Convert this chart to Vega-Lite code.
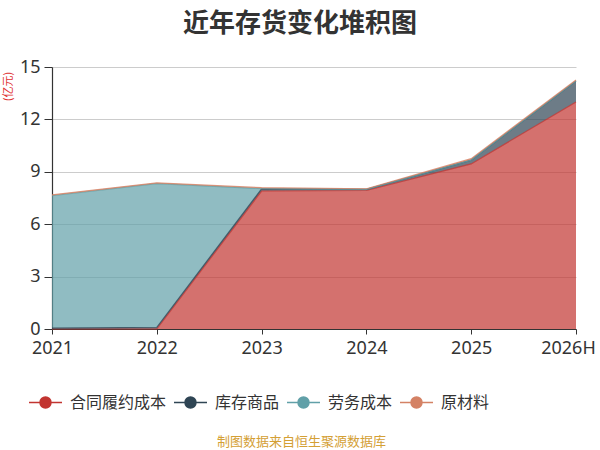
{
  "$schema": "https://vega.github.io/schema/vega-lite/v6.json",
  "width": 524,
  "height": 262,
  "autosize": {"type": "none"},
  "padding": {"left": 52, "top": 67, "right": 24, "bottom": 121},
  "background": "white",
  "config": {
    "font": "Noto Sans CJK SC",
    "view": {"stroke": null},
    "axis": {"labelFont": "Noto Sans", "titleFont": "Noto Sans CJK SC"}
  },
  "title": {
    "text": "近年存货变化堆积图",
    "fontSize": 26,
    "fontWeight": "bold",
    "color": "#333333",
    "anchor": "middle",
    "dx": -14,
    "offset": 21
  },
  "data": {
    "values": [
      {"year": "2021", "type": "合同履约成本", "k": 1, "value": 0},
      {"year": "2021", "type": "库存商品", "k": 2, "value": 0.05},
      {"year": "2021", "type": "劳务成本", "k": 3, "value": 7.58},
      {"year": "2021", "type": "原材料", "k": 4, "value": 0.05},
      {"year": "2022", "type": "合同履约成本", "k": 1, "value": 0},
      {"year": "2022", "type": "库存商品", "k": 2, "value": 0.1},
      {"year": "2022", "type": "劳务成本", "k": 3, "value": 8.22},
      {"year": "2022", "type": "原材料", "k": 4, "value": 0.05},
      {"year": "2023", "type": "合同履约成本", "k": 1, "value": 7.9},
      {"year": "2023", "type": "库存商品", "k": 2, "value": 0.12},
      {"year": "2023", "type": "劳务成本", "k": 3, "value": 0.02},
      {"year": "2023", "type": "原材料", "k": 4, "value": 0.05},
      {"year": "2024", "type": "合同履约成本", "k": 1, "value": 7.93},
      {"year": "2024", "type": "库存商品", "k": 2, "value": 0.06},
      {"year": "2024", "type": "劳务成本", "k": 3, "value": 0},
      {"year": "2024", "type": "原材料", "k": 4, "value": 0.04},
      {"year": "2025", "type": "合同履约成本", "k": 1, "value": 9.45},
      {"year": "2025", "type": "库存商品", "k": 2, "value": 0.22},
      {"year": "2025", "type": "劳务成本", "k": 3, "value": 0},
      {"year": "2025", "type": "原材料", "k": 4, "value": 0.08},
      {"year": "2026H", "type": "合同履约成本", "k": 1, "value": 13.0},
      {"year": "2026H", "type": "库存商品", "k": 2, "value": 1.2},
      {"year": "2026H", "type": "劳务成本", "k": 3, "value": 0},
      {"year": "2026H", "type": "原材料", "k": 4, "value": 0.05}
    ]
  },
  "mark": {
    "type": "area",
    "opacity": 0.7,
    "line": {"strokeWidth": 1.2, "opacity": 0.8}
  },
  "encoding": {
    "x": {
      "field": "year",
      "type": "ordinal",
      "scale": {"type": "point", "padding": 0},
      "axis": {
        "title": "制图数据来自恒生聚源数据库",
        "titleColor": "#d4a035",
        "titleFontSize": 13,
        "titleFontWeight": "normal",
        "titleX": 249,
        "titleY": 112,
        "titleBaseline": "middle",
        "titleAlign": "center",
        "labelAngle": 0,
        "labelFontSize": 18,
        "labelColor": "#333333",
        "labelPadding": 5,
        "labelOffset": {"condition": {"test": "datum.label == '2026H'", "value": -8}, "value": 0},
        "domainColor": "#333333",
        "domainWidth": 1.2,
        "tickColor": "#333333",
        "tickSize": 5,
        "grid": false
      }
    },
    "y": {
      "field": "value",
      "type": "quantitative",
      "stack": "zero",
      "scale": {"domain": [0, 15]},
      "axis": {
        "values": [0, 3, 6, 9, 12, 15],
        "title": "(亿元)",
        "titleColor": "#e03030",
        "titleFontSize": 11,
        "titleFontWeight": "normal",
        "titleAngle": -90,
        "titleX": -44,
        "titleY": 19,
        "titleBaseline": "middle",
        "titleAlign": "center",
        "labelFontSize": 18,
        "labelColor": "#333333",
        "labelPadding": 4,
        "domainColor": "#333333",
        "domainWidth": 1.2,
        "tickColor": "#333333",
        "tickSize": 8,
        "gridColor": "#cccccc",
        "gridWidth": 1
      }
    },
    "color": {
      "field": "type",
      "type": "nominal",
      "scale": {
        "domain": ["合同履约成本", "库存商品", "劳务成本", "原材料"],
        "range": ["#c23531", "#2f4554", "#61a0a8", "#d48265"]
      },
      "legend": {
        "title": null,
        "orient": "none",
        "direction": "horizontal",
        "legendX": -24,
        "legendY": 318,
        "labelFontSize": 16,
        "labelColor": "#333333",
        "columnPadding": 4,
        "labelOffset": 7,
        "symbolSize": 1089,
        "symbolType": "M-1,0H1M-0.333,0A0.333,0.333,0,1,1,0.333,0A0.333,0.333,0,1,1,-0.333,0Z",
        "symbolStrokeWidth": 1.5,
        "symbolOpacity": 1,
        "encode": {
          "symbols": {
            "update": {
              "stroke": {"scale": "color", "field": "value"},
              "fill": {"scale": "color", "field": "value"},
              "opacity": {"value": 1}
            }
          }
        }
      }
    },
    "order": {"field": "k", "type": "quantitative"}
  }
}
